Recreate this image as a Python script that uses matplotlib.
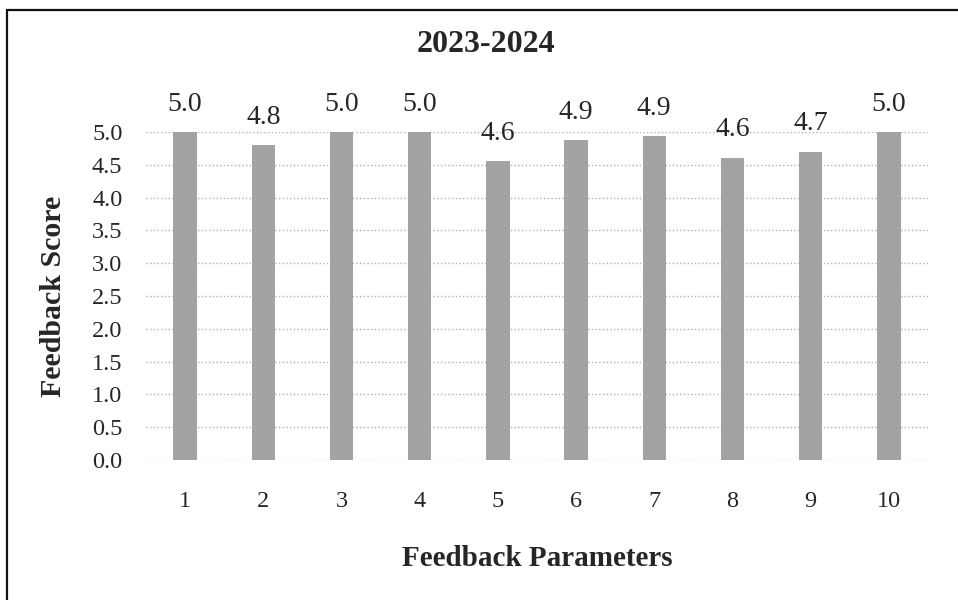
import matplotlib.pyplot as plt
from matplotlib.patches import Rectangle

# dane
params = ["1", "2", "3", "4", "5", "6", "7", "8", "9", "10"]
scores = [5.0, 4.8, 5.0, 5.0, 4.56, 4.88, 4.94, 4.61, 4.70, 5.0]
yticks = [0.0, 0.5, 1.0, 1.5, 2.0, 2.5, 3.0, 3.5, 4.0, 4.5, 5.0]

plt.rcParams['font.family'] = ['Liberation Serif', 'DejaVu Serif']
txt = '#262626'

fig = plt.figure(figsize=(9.58, 6.0), dpi=100)
ax = fig.add_axes([0.1524, 0.2333, 0.8163, 0.5467])

x = list(range(1, len(params) + 1))
bars = ax.bar(x, scores, width=0.3, color='#a3a3a3', zorder=3)

for xi, v in zip(x, scores):
    ax.annotate(f"{v:.1f}", (xi, v), xytext=(0, 20), textcoords='offset points',
                ha='center', va='center', fontsize=20, color=txt, annotation_clip=False)

ax.set_xlim(0.5, 10.5)
ax.set_ylim(0, 5.0)
ax.set_yticks(yticks)
ax.set_yticklabels([f"{t:.1f}" for t in yticks])
ax.set_xticks(x)
ax.set_xticklabels(params)
ax.tick_params(axis='y', length=0, pad=17, labelsize=17.5, labelcolor=txt)
ax.tick_params(axis='x', length=0, pad=22, labelsize=17.5, labelcolor=txt)
ax.grid(axis='y', linestyle=':', color='#b0b0b0', linewidth=1.0, zorder=0)
ax.set_axisbelow(True)
for s in ax.spines.values():
    s.set_visible(False)

ax.set_ylabel("Feedback Score", fontsize=21.5, fontweight='bold', color=txt, labelpad=18)
ax.set_xlabel("Feedback Parameters", fontsize=21, fontweight='bold', color=txt, labelpad=24)

fig.text(0.507, 0.925, "2023-2024", ha='center', va='center', fontsize=23,
         fontweight='bold', color=txt)

# ramka wokol calego wykresu
fig.patches.append(Rectangle((0.0075, -0.02), 1.0, 1.003, transform=fig.transFigure,
                             fill=False, edgecolor='#111111', linewidth=1.6))

fig.savefig("out.png", dpi=100)
